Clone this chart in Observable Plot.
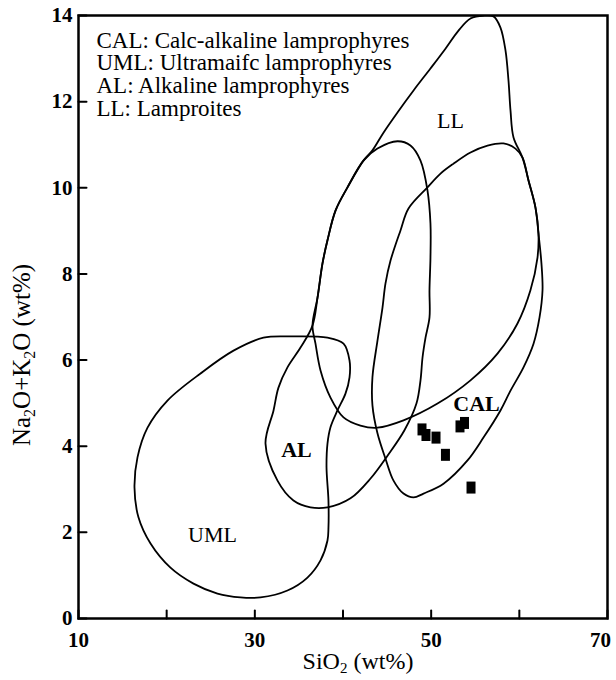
<!DOCTYPE html>
<html><head><meta charset="utf-8">
<script src="https://cdn.jsdelivr.net/npm/d3@7"></script>
<script src="https://cdn.jsdelivr.net/npm/@observablehq/plot@0.6"></script>
<style>body{margin:0;background:#fff} svg{display:block}</style>
</head><body><div id="chart"></div>
<script>
// Field outlines [SiO2, Na2O+K2O]
const umlField = [[30.98,6.52],[34.04,6.55],[38.24,6.52],[40.06,6.38],[40.74,5.99],[40.74,5.60],[40.28,5.22],[39.37,4.83],[38.58,4.44],[38.24,4.06],[38.13,3.51],[38.35,2.74],[38.35,2.11],[38.24,1.81],[37.45,1.35],[35.97,0.95],[33.70,0.65],[30.64,0.49],[28.37,0.49],[25.76,0.58],[23.04,0.81],[20.43,1.18],[18.17,1.74],[16.80,2.35],[16.35,3.04],[16.69,3.74],[17.83,4.43],[20.09,5.06],[23.84,5.69],[27.58,6.22]];
const alField = [[31.21,4.06],[32.12,4.83],[32.68,5.36],[33.70,5.83],[35.18,6.29],[36.54,6.80],[37.11,7.45],[37.67,8.24],[38.24,8.78],[39.15,9.47],[40.51,10.01],[42.32,10.63],[43.91,10.91],[46.18,11.08],[47.65,10.98],[48.79,10.63],[49.58,9.94],[49.92,9.17],[49.92,8.38],[49.81,7.62],[49.81,6.99],[49.36,6.52],[49.02,6.06],[48.79,5.53],[48.33,4.99],[46.97,4.37],[45.05,3.78],[43.12,3.25],[40.85,2.79],[38.24,2.58],[36.31,2.58],[34.38,2.74],[32.57,3.20]];
const llField = [[55.93,14.0],[54.46,13.93],[53.10,13.65],[51.62,13.23],[49.92,12.77],[48.00,12.26],[46.18,11.75],[44.59,11.28],[43.34,10.87],[42.32,10.63],[40.51,10.01],[39.15,9.47],[38.24,8.78],[37.67,8.24],[37.11,7.45],[36.54,6.80],[36.88,6.38],[37.45,5.76],[38.58,5.13],[40.06,4.67],[41.98,4.48],[43.91,4.43],[46.86,4.60],[50.72,4.99],[54.46,5.53],[57.52,6.15],[59.79,6.85],[61.26,7.62],[62.06,8.38],[62.17,8.94],[61.83,9.54],[61.04,10.17],[60.36,10.70],[59.34,11.17],[59.00,11.79],[58.77,12.49],[58.43,13.19],[57.86,13.72],[57.07,13.98]];
const calField = [[47.43,9.52],[49.58,10.01],[51.06,10.33],[52.53,10.56],[54.46,10.82],[56.39,10.98],[58.20,11.03],[59.56,10.91],[60.36,10.70],[61.04,10.17],[61.83,9.54],[62.17,8.94],[62.51,8.24],[62.63,7.62],[62.29,6.99],[61.61,6.38],[60.47,5.83],[59.00,5.29],[57.86,4.83],[55.93,4.20],[54.12,3.67],[51.40,3.13],[49.13,2.90],[48.00,2.81],[46.86,2.90],[45.73,3.20],[44.82,3.71],[43.91,4.30],[43.34,4.95],[43.34,5.60],[43.91,6.45],[44.48,7.22],[44.82,7.78],[45.39,8.31],[46.52,9.01]];

// Samples
const sampleSiO2 = [48.96, 49.41, 50.55, 51.62, 53.27, 53.78, 54.52];
const sampleAlk  = [4.39, 4.26, 4.20, 3.80, 4.46, 4.54, 3.04];

// Field labels
const fieldNames = ["LL", "CAL", "AL", "UML"];
const fieldLabelX = [52.19, 55.14, 34.72, 25.20];
const fieldLabelY = [11.56, 4.99, 3.92, 1.95];
const fieldLabelBold = [false, true, true, false];

// Axes
const xTicks = [10, 20, 30, 40, 50, 60, 70];
const xTickLabels = [10, 30, 50];
const xTickLabelsEnd = [70];
const yTicks = [0, 2, 4, 6, 8, 10, 12, 14];
const legendLines = ["CAL: Calc-alkaline lamprophyres", "UML: Ultramaifc lamprophyres", "AL: Alkaline lamprophyres", "LL: Lamproites"];

const labels = fieldNames.map((n, i) => ({name: n, x: fieldLabelX[i], y: fieldLabelY[i], bold: fieldLabelBold[i]}));
const samples = sampleSiO2.map((x, i) => ({x, y: sampleAlk[i]}));

const tickShape = {draw(context, l) { context.moveTo(0, 0); context.lineTo(0, -l); }};
const rectSymbol = {draw(context) { context.rect(-4.5, -6, 9, 12); }};

const fieldLine = (pts) => Plot.line(pts, {x: d => d[0], y: d => d[1], curve: "catmull-rom-closed", stroke: "black", strokeWidth: 1.8, clip: true});

const chart = Plot.plot({
  width: 616, height: 680,
  marginLeft: 78, marginRight: 9, marginTop: 15, marginBottom: 62,
  style: {fontFamily: "'Liberation Serif', 'Times New Roman', serif", color: "black", background: "white"},
  x: {domain: [10, 70], label: null},
  y: {domain: [0, 14], label: null},
  marks: [
    fieldLine(umlField),
    fieldLine(alField),
    fieldLine(llField),
    fieldLine(calField),
    Plot.dot(samples, {x: "x", y: "y", symbol: rectSymbol, fill: "black", stroke: null}),
    Plot.text(labels.filter(d => !d.bold), {x: "x", y: "y", text: "name", fontSize: 22}),
    Plot.text(labels.filter(d => d.bold), {x: "x", y: "y", text: "name", fontSize: 22, fontWeight: "bold"}),
    Plot.text([legendLines.join("\n")], {frameAnchor: "top-left", dx: 18, dy: 16, lineAnchor: "top", textAnchor: "start", fontSize: 23, lineHeight: 0.99}),
    Plot.vector(yTicks, {y: d => d, frameAnchor: "left", rotate: 90, length: 8, anchor: "start", shape: tickShape, stroke: "black", strokeWidth: 2}),
    Plot.vector(xTicks, {x: d => d, frameAnchor: "bottom", rotate: 0, length: 8, anchor: "start", shape: tickShape, stroke: "black", strokeWidth: 2}),
    Plot.axisY({ticks: yTicks, tickSize: 0, tickPadding: 6, fontSize: 21, fontWeight: "bold", label: null}),
    Plot.axisX({ticks: xTickLabels, tickSize: 0, tickPadding: 14, fontSize: 21, fontWeight: "bold", label: null}),
    Plot.axisX({ticks: xTickLabelsEnd, tickSize: 0, tickPadding: 14, fontSize: 21, fontWeight: "bold", label: null, dx: -7}),
    Plot.frame({stroke: "black", strokeWidth: 2.5})
  ]
});

const svg = d3.select(chart);
// x-axis title with subscript
const xt = svg.append("text").attr("x", 358).attr("y", 669).attr("text-anchor", "middle")
  .attr("font-size", 24).attr("fill", "black");
xt.append("tspan").text("SiO");
xt.append("tspan").attr("font-size", 15).attr("dy", 4).text("2");
xt.append("tspan").attr("dy", -4).text(" (wt%)");
// y-axis title with subscripts
const yt = svg.append("text").attr("transform", "translate(30,355) rotate(-90)").attr("text-anchor", "middle")
  .attr("font-size", 25).attr("fill", "black");
yt.append("tspan").text("Na");
yt.append("tspan").attr("font-size", 16).attr("dy", 5).text("2");
yt.append("tspan").attr("dy", -5).text("O+K");
yt.append("tspan").attr("font-size", 16).attr("dy", 5).text("2");
yt.append("tspan").attr("dy", -5).text("O (wt%)");

document.getElementById("chart").appendChild(chart);
</script>
</body></html>
